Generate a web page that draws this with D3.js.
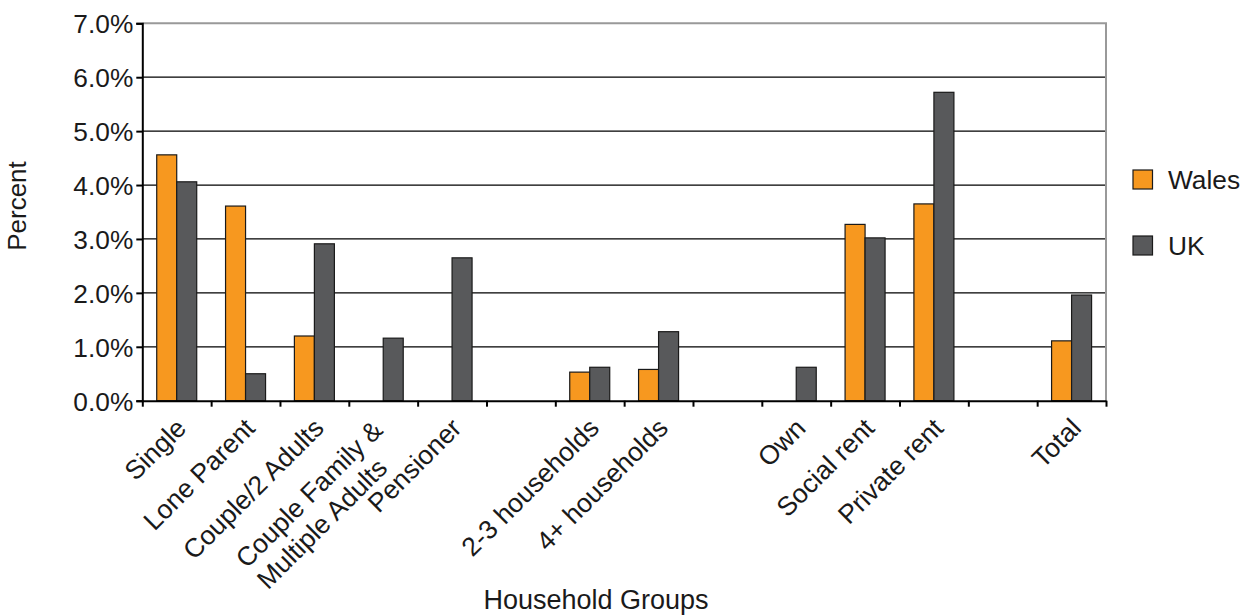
<!DOCTYPE html>
<html>
<head>
<meta charset="utf-8">
<script src="https://cdn.jsdelivr.net/npm/d3@7"></script>
<style>
  body { margin: 0; background: #fff; }
  svg { display: block; font-family: "Liberation Sans", Arial, Helvetica, sans-serif; }
</style>
</head>
<body>
<svg id="chart" width="1248" height="615"></svg>
<script>
const categories = ["Single", "Lone Parent", "Couple/2 Adults", "Couple Family &\nMultiple Adults", "Pensioner", "", "2-3 households", "4+ households", "", "Own", "Social rent", "Private rent", "", "Total"];
const walesValues = [4.56, 3.61, 1.20, null, null, null, 0.53, 0.58, null, null, 3.27, 3.65, null, 1.11];
const ukValues    = [4.06, 0.50, 2.91, 1.16, 2.65, null, 0.62, 1.28, null, 0.62, 3.02, 5.72, null, 1.96];
const seriesNames = ["Wales", "UK"];
const seriesColors = ["#F7981F", "#58595B"];
const yTicks = [0, 1, 2, 3, 4, 5, 6, 7];
const yTickLabels = ["0.0%", "1.0%", "2.0%", "3.0%", "4.0%", "5.0%", "6.0%", "7.0%"];

(function () {
const svg = d3.select("#chart");
const pLeft = 142.3, pRight = 1106, pTop = 23.3, pBottom = 400.7;
const textColor = "#1a1a1a";

const x = d3.scaleBand().domain(d3.range(categories.length)).range([pLeft, pRight]).paddingInner(0).paddingOuter(0);
const xSub = d3.scaleBand().domain([0, 1]).range([0, 40]);
const xOffset = (x.bandwidth() - 40) / 2;
const y = d3.scaleLinear().domain([0, 7]).range([pBottom, pTop]);

// gridlines
svg.append("g").selectAll("line").data(yTicks.filter(t => t > 0 && t < 7)).join("line")
  .attr("x1", pLeft).attr("x2", pRight)
  .attr("y1", d => y(d)).attr("y2", d => y(d))
  .attr("stroke", "#000").attr("stroke-width", 1.2);

// top and right border (gray)
svg.append("path")
  .attr("d", `M${pLeft},${y(7)}H${pRight}V${pBottom}`)
  .attr("fill", "none").attr("stroke", "#999").attr("stroke-width", 2);

// bars
const seriesData = [walesValues, ukValues];
seriesData.forEach((vals, si) => {
  svg.append("g").selectAll("rect")
    .data(vals.map((v, i) => ({ v, i })).filter(d => d.v != null))
    .join("rect")
    .attr("x", d => x(d.i) + xOffset + xSub(si))
    .attr("width", xSub.bandwidth())
    .attr("y", d => y(d.v))
    .attr("height", d => y(0) - y(d.v))
    .attr("fill", seriesColors[si])
    .attr("stroke", "#1a1a1a").attr("stroke-width", 1.2);
});

// y axis
const yAxis = d3.axisLeft(y).tickValues(yTicks).tickFormat((d, i) => yTickLabels[i]).tickSize(6).tickPadding(3);
const gy = svg.append("g").attr("transform", `translate(${pLeft},0)`).call(yAxis);
gy.select(".domain").attr("stroke", "#000").attr("stroke-width", 2);
gy.selectAll(".tick line").attr("stroke", "#000").attr("stroke-width", 2);
gy.selectAll(".tick text").attr("font-size", 26.3).attr("fill", textColor)
  .attr("font-family", '"Liberation Sans", Arial, sans-serif').attr("dy", "0.36em");

// x axis (boundaries)
const xb = d3.scaleLinear().domain([0, categories.length]).range([pLeft, pRight]);
const xAxis = d3.axisBottom(xb).tickValues(d3.range(categories.length + 1)).tickFormat("").tickSize(6).tickSizeOuter(0);
const gx = svg.append("g").attr("transform", `translate(0,${pBottom})`).call(xAxis);
gx.select(".domain").attr("stroke", "#000").attr("stroke-width", 2);
gx.selectAll(".tick line").attr("stroke", "#000").attr("stroke-width", 2);

// category labels rotated
const labG = svg.append("g");
categories.forEach((c, i) => {
  if (!c) return;
  const lines = c.split("\n");
  const cx = x(i) + x.bandwidth() / 2;
  const multi = lines.length > 1;
  const t = labG.append("text")
    .attr("transform", `translate(${cx + (multi ? 1 : 11)},${pBottom + (multi ? 31 : 29)}) rotate(-45)`)
    .attr("font-size", 26.5).attr("fill", textColor);
  if (!multi) {
    t.attr("text-anchor", "end").text(c);
  } else {
    const spans = lines.map((l, k) => t.append("tspan").attr("x", 0).attr("dy", k === 0 ? 0 : 30).text(l));
    const w0 = spans[0].node().getComputedTextLength();
    spans.forEach(s => s.attr("x", -w0));
  }
});

// axis titles
svg.append("text").attr("transform", `translate(26,206) rotate(-90)`)
  .attr("text-anchor", "middle").attr("font-size", 26).attr("fill", textColor).text("Percent");
svg.append("text").attr("x", 596).attr("y", 609)
  .attr("text-anchor", "middle").attr("font-size", 27).attr("fill", textColor).text("Household Groups");

// legend
const leg = svg.append("g");
seriesNames.forEach((n, i) => {
  const yy = 170 + i * 66;
  leg.append("rect").attr("x", 1133).attr("y", yy).attr("width", 19.5).attr("height", 19)
    .attr("fill", seriesColors[i]).attr("stroke", "#1a1a1a").attr("stroke-width", 1.2);
  leg.append("text").attr("x", 1168).attr("y", yy + 19).attr("font-size", 26.3).attr("fill", textColor).text(n);
});
})();
</script>
</body>
</html>
